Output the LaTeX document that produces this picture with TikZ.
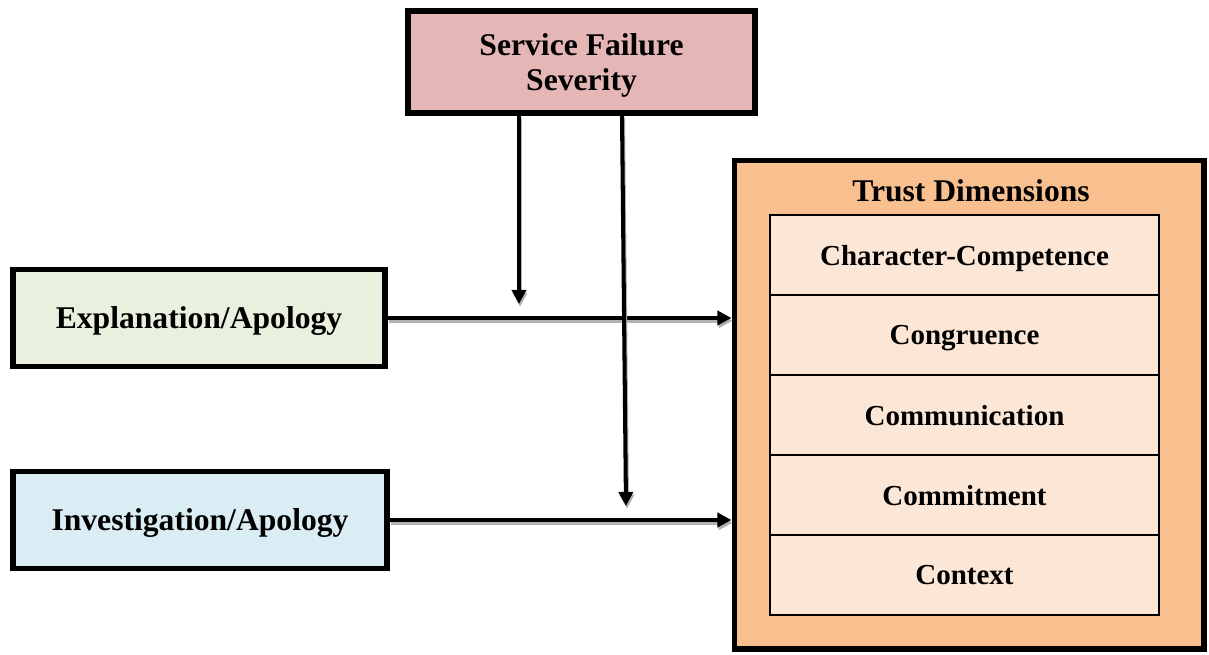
\documentclass[tikz,border=0pt]{standalone}
\usepackage{fontspec}
\setmainfont{Liberation Serif}
\usepackage{xcolor}
\usepackage{tikz}
\usetikzlibrary{shapes,arrows,positioning,calc,arrows.meta}

\definecolor{sevred}{HTML}{E4B6B6}
\definecolor{explgreen}{HTML}{E9F0DD}
\definecolor{invblue}{HTML}{DBEDF4}
\definecolor{trustorange}{HTML}{F8C08F}
\definecolor{dimpeach}{HTML}{FCE6D6}

\begin{document}
\begin{tikzpicture}[x=0.02cm, y=-0.02cm, node distance=0pt,
    block/.style={draw, line width=2.9pt, align=center, text depth=0pt,
        font=\fontsize{18}{20}\selectfont\bfseries},
    dimbox/.style={draw, line width=1.1pt, outer sep=0pt, fill=dimpeach, text depth=0pt,
        minimum width=7.78cm, minimum height=1.6cm, font=\fontsize{16.5}{19}\selectfont\bfseries},
    flow/.style={line width=2.3pt, -{Triangle[length=8pt,width=8pt]},
        preaction={draw=black!30, line width=2.3pt, transform canvas={xshift=0.6pt, yshift=-1.6pt}}}]
    \useasboundingbox (0,0) rectangle (1209,655);

    % moderator
    \node [block, fill=sevred, minimum width=6.94cm, minimum height=2.04cm] (sev) at (581.5,62)
        {Service Failure\\Severity};

    % strategies
    \node [block, fill=explgreen, minimum width=7.44cm, minimum height=1.94cm] (expl) at (199,318)
        {Explanation/Apology};
    \node [block, fill=invblue, minimum width=7.48cm, minimum height=1.94cm] (inv) at (200,520)
        {Investigation/Apology};

    % outcome
    \node [block, fill=trustorange, minimum width=9.4cm, minimum height=9.78cm] (trust) at (969,404.5) {};
    \node [font=\fontsize{18}{20}\selectfont\bfseries, text depth=0pt] (title) at (971,191) {Trust Dimensions};
    \node [dimbox] (dim1) at (964.5,255) {Character-Competence};
    \node [dimbox, below=of dim1] (dim2) {Congruence};
    \node [dimbox, below=of dim2] (dim3) {Communication};
    \node [dimbox, below=of dim3] (dim4) {Commitment};
    \node [dimbox, below=of dim4] (dim5) {Context};

    \coordinate (m1) at (519,304);
    \coordinate (m2) at (626,506);

    \draw [flow] (expl.east) -- (expl.east -| trust.west);
    \draw [flow] (inv.east) -- (inv.east -| trust.west);
    \draw [flow] (sev.south -| m1) -- (m1);
    \draw [flow] ($(sev.south)+(40.5,0)$) -- (m2);
\end{tikzpicture}
\end{document}
